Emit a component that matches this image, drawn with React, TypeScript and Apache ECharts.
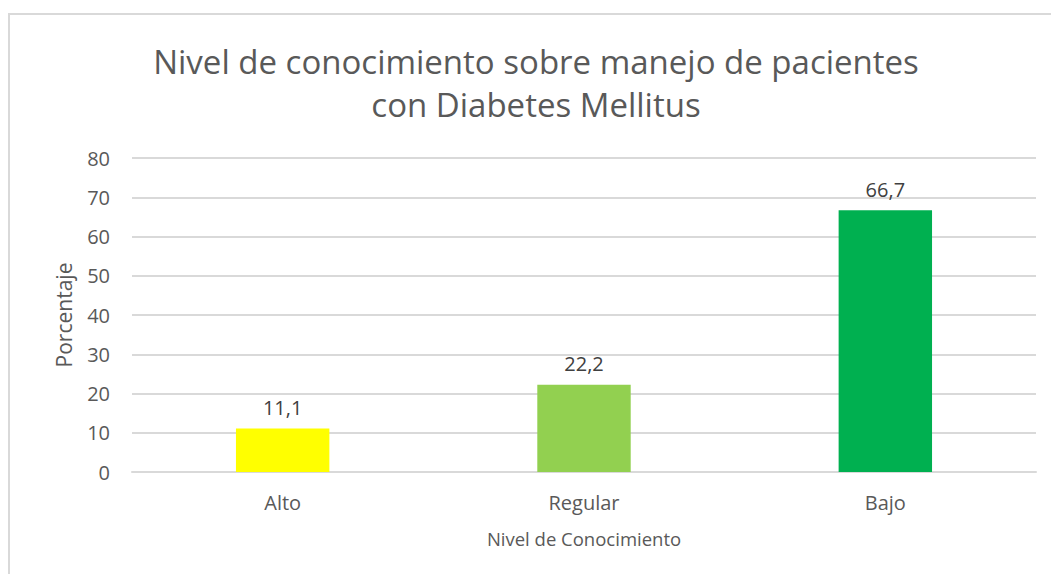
import React, { useEffect, useRef } from "react";
import * as echarts from "echarts";

const categories = ["Alto", "Regular", "Bajo"];
const values = [11.1, 22.2, 66.7];
const barColors = ["#FFFF00", "#92D050", "#00B050"];
const yTicks = [0, 10, 20, 30, 40, 50, 60, 70, 80];

const FONT = "'Open Sans', 'Noto Sans', sans-serif";

export default function App() {
  const ref = useRef<HTMLDivElement>(null);
  useEffect(() => {
    if (!ref.current) return;
    const chart = echarts.init(ref.current, undefined, { renderer: "svg" });
    chart.setOption({
      animation: false,
      backgroundColor: "#ffffff",
      textStyle: { fontFamily: FONT },
      graphic: [
        {
          type: "rect",
          shape: { x: 9, y: 14, width: 1200, height: 700 },
          style: { fill: "none", stroke: "#d9d9d9", lineWidth: 2 },
          silent: true,
        },
      ],
      title: {
        text: "Nivel de conocimiento sobre manejo de pacientes\ncon Diabetes Mellitus",
        left: 531,
        textAlign: "center",
        top: 35,
        textStyle: {
          fontFamily: FONT,
          fontSize: 33,
          fontWeight: "normal",
          color: "#595959",
          lineHeight: 43,
        },
      },
      grid: { left: 132, right: 15, top: 158, bottom: 102, containLabel: false },
      xAxis: {
        type: "category",
        data: categories,
        name: "Nivel de Conocimiento",
        nameLocation: "middle",
        nameGap: 57,
        nameTextStyle: { fontFamily: FONT, fontSize: 18.5, color: "#595959" },
        axisLine: { lineStyle: { color: "#d9d9d9", width: 2 } },
        axisTick: { show: false },
        axisLabel: { fontFamily: FONT, fontSize: 20, color: "#595959", margin: 20 },
      },
      yAxis: {
        type: "value",
        min: yTicks[0],
        max: yTicks[yTicks.length - 1],
        interval: 10,
        name: "Porcentaje",
        nameLocation: "middle",
        nameGap: 58,
        nameRotate: 90,
        nameTextStyle: { fontFamily: FONT, fontSize: 21, color: "#595959" },
        axisLine: { show: false },
        axisTick: { show: false },
        axisLabel: { fontFamily: FONT, fontSize: 20, color: "#595959", margin: 22 },
        splitLine: { lineStyle: { color: "#d9d9d9", width: 2 } },
      },
      series: [
        {
          type: "bar",
          data: values.map((v, i) => ({ value: v, itemStyle: { color: barColors[i] } })),
          barWidth: "31%",
          label: {
            show: true,
            position: "top",
            distance: 11,
            fontFamily: FONT,
            fontSize: 20,
            color: "#404040",
            formatter: (p: any) => String(p.value).replace(".", ","),
          },
        },
      ],
    });
    return () => chart.dispose();
  }, []);
  return (
    <div
      ref={ref}
      style={{ position: "absolute", left: 0, top: 0, width: 1051, height: 574 }}
    />
  );
}
